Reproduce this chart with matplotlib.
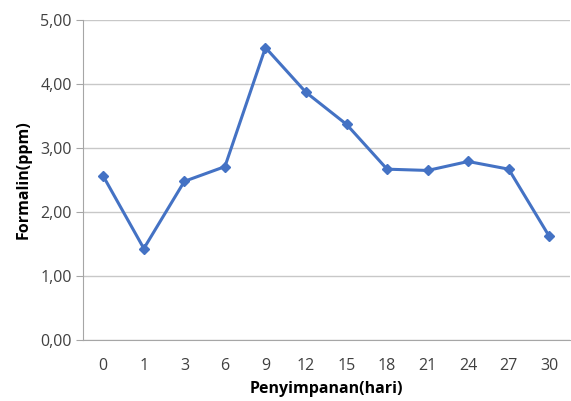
import numpy as np
from matplotlib import pyplot as plt

# Storage time (days) and formalin content (ppm)
days = ["0", "1", "3", "6", "9", "12", "15", "18", "21", "24", "27", "30"]
formalin = [2.56, 1.43, 2.48, 2.71, 4.57, 3.87, 3.37, 2.67, 2.65, 2.79, 2.67, 1.62]
y_ticks = [0, 1, 2, 3, 4, 5]
y_labels = ["0,00", "1,00", "2,00", "3,00", "4,00", "5,00"]

plt.rcParams["font.family"] = ["Open Sans", "DejaVu Sans"]

fig = plt.figure(figsize=(5.71, 4.01), dpi=100)
ax = fig.add_axes([0.1454, 0.152, 0.852, 0.798])

x = np.arange(len(days))
ax.plot(x, formalin, color="#4472C4", lw=2.2, marker="D", ms=5.5,
        markeredgecolor="#4472C4", zorder=3)

ax.set_xlim(-0.5, len(days) - 0.5)
ax.set_ylim(0, 5)
ax.set_xticks(x)
ax.set_xticklabels(days)
ax.set_yticks(y_ticks)
ax.set_yticklabels(y_labels)

ax.grid(axis="y", color="#c8c8c8", lw=1)
ax.set_axisbelow(True)
for side in ["top", "right"]:
    ax.spines[side].set_visible(False)
ax.spines["left"].set_color("#a6a6a6")
ax.spines["bottom"].set_color("#a6a6a6")
ax.tick_params(axis="y", length=5, color="#a6a6a6", labelsize=11.5, labelcolor="#404040", pad=3)
ax.tick_params(axis="x", length=0, labelsize=11.5, labelcolor="#404040", pad=13)

ax.set_xlabel("Penyimpanan(hari)", fontsize=11.5, fontweight="bold", labelpad=5)
ax.set_ylabel("Formalin(ppm)", fontsize=11.5, fontweight="bold", labelpad=6)

fig.savefig("out.png", dpi=100)
